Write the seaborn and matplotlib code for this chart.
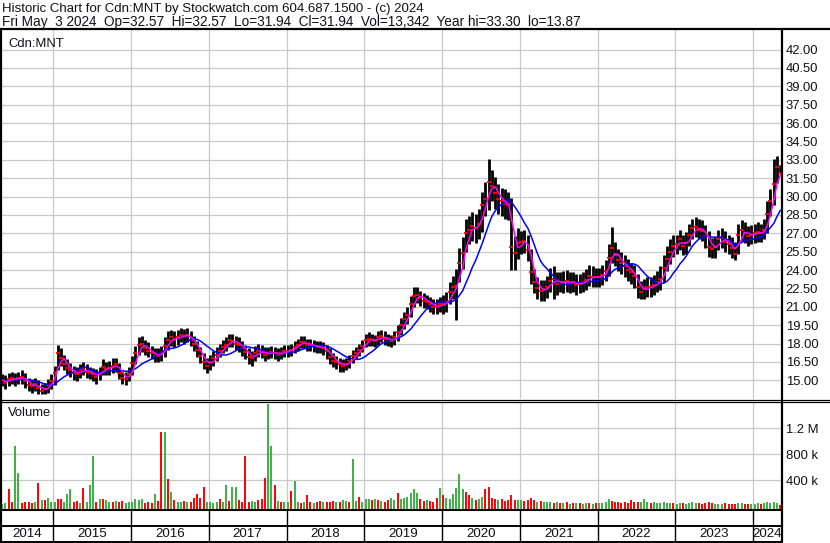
import matplotlib
matplotlib.use("Agg")
import matplotlib.pyplot as plt
from matplotlib.lines import Line2D
import numpy as np
import pandas as pd
import seaborn as sns

# semi-monthly bars, May 2014 .. May 3 2024
close = [
    15.0, 14.8, 15.1, 15.2, 15.0, 15.2, 15.3, 14.9, 14.6, 14.5, 14.7, 14.4, 14.1, 14.3, 14.6, 14.9,  # 2014
    15.6, 17.2, 16.8, 16.3, 16.0, 15.8, 15.6, 15.5, 15.8, 15.9, 15.7, 15.6, 15.5, 15.3, 15.6, 16.1, 15.9, 16.0, 16.2, 16.3, 15.6, 15.2, 15.1, 15.5,  # 2015
    16.4, 17.2, 17.9, 18.0, 17.6, 17.4, 17.2, 17.0, 17.0, 17.2, 17.8, 18.3, 18.5, 18.3, 18.5, 18.7, 18.6, 18.7, 18.3, 18.0, 17.5, 17.0, 16.5, 16.2,  # 2016
    16.5, 16.8, 17.1, 17.4, 17.7, 17.9, 18.3, 18.2, 18.0, 17.9, 17.6, 17.3, 16.9, 16.8, 17.2, 17.4, 17.3, 17.1, 17.2, 17.3, 17.2, 17.1, 17.2, 17.4,  # 2017
    17.4, 17.5, 17.7, 17.9, 18.1, 18.1, 17.9, 17.9, 17.8, 17.7, 17.7, 17.6, 17.4, 16.9, 16.6, 16.5, 16.3, 16.2, 16.3, 16.6, 17.0, 17.2, 17.5, 17.8,  # 2018
    18.3, 18.4, 18.3, 18.2, 18.5, 18.6, 18.4, 18.3, 18.2, 18.5, 18.9, 19.5, 20.0, 20.3, 21.2, 21.9, 22.0, 21.7, 21.5, 21.4, 21.2, 21.0, 21.0, 21.2,  # 2019
    21.2, 21.4, 22.2, 22.6, 22.7, 24.6, 25.4, 27.0, 27.3, 27.6, 27.4, 27.8, 29.3, 29.8, 31.2, 30.9, 30.3, 29.8, 29.6, 29.4, 29.3, 25.9, 25.4, 26.2,  # 2020
    26.3, 26.4, 25.6, 23.8, 23.0, 22.5, 22.3, 22.4, 22.6, 23.1, 23.3, 22.9, 23.0, 23.0, 23.1, 22.9, 23.0, 22.8, 22.9, 23.0, 23.2, 23.5, 23.4, 23.4,  # 2021
    23.4, 23.6, 23.9, 25.0, 25.8, 25.2, 24.8, 24.6, 24.3, 24.0, 23.8, 23.5, 22.6, 22.2, 22.5, 22.6, 22.6, 22.8, 23.0, 23.3, 24.2, 24.9, 25.5, 26.0,  # 2022
    26.1, 26.5, 26.0, 26.2, 26.9, 27.4, 27.5, 27.3, 27.2, 26.8, 25.9, 25.7, 25.9, 26.5, 26.6, 26.3, 26.1, 25.8, 25.3, 26.9, 27.3, 27.0, 26.8, 26.9,  # 2023
    27.0, 27.1, 27.0, 27.3, 28.6, 29.6, 31.0, 32.4, 31.94,  # 2024
]
high = [
    15.5, 15.4, 15.6, 15.7, 15.6, 15.7, 15.8, 15.6, 15.2, 15.1, 15.2, 15.0, 14.7, 14.8, 15.1, 15.5,
    16.2, 17.9, 17.6, 17.1, 16.7, 16.4, 16.2, 16.1, 16.3, 16.5, 16.3, 16.1, 16.0, 15.9, 16.1, 16.7, 16.5, 16.6, 16.8, 16.8, 16.4, 15.8, 15.7, 16.1,
    17.0, 17.8, 18.5, 18.6, 18.3, 18.1, 17.8, 17.6, 17.6, 17.8, 18.5, 19.0, 19.1, 19.0, 19.1, 19.3, 19.2, 19.3, 19.0, 18.6, 18.2, 17.7, 17.2, 16.8,
    17.1, 17.4, 17.7, 18.0, 18.3, 18.5, 18.8, 18.8, 18.6, 18.5, 18.2, 17.9, 17.6, 17.4, 17.8, 18.0, 17.9, 17.7, 17.7, 17.8, 17.7, 17.6, 17.7, 17.9,
    17.9, 18.0, 18.2, 18.4, 18.6, 18.6, 18.4, 18.4, 18.3, 18.2, 18.2, 18.1, 17.9, 17.6, 17.2, 17.0, 16.8, 16.7, 16.8, 17.1, 17.5, 17.7, 18.0, 18.3,
    18.8, 18.9, 18.8, 18.7, 19.0, 19.1, 19.0, 18.8, 18.7, 19.0, 19.5, 20.1, 20.6, 21.0, 21.9, 22.6, 22.6, 22.3, 22.1, 22.0, 21.8, 21.6, 21.6, 21.8,
    22.0, 22.2, 23.0, 23.5, 24.1, 25.8, 26.7, 28.2, 28.4, 28.7, 28.6, 29.0, 30.4, 31.2, 33.1, 32.2, 31.6, 31.0, 30.7, 30.6, 30.4, 29.9, 26.8, 27.4,
    27.2, 27.3, 26.9, 25.7, 24.1, 23.4, 23.2, 23.2, 23.5, 24.2, 24.3, 23.8, 23.8, 23.9, 24.0, 23.8, 23.8, 23.7, 23.7, 23.8, 24.1, 24.4, 24.3, 24.2,
    24.2, 24.4, 24.8, 26.1, 27.5, 26.3, 25.7, 25.5, 25.2, 24.9, 24.6, 24.4, 23.7, 23.1, 23.3, 23.4, 23.4, 23.6, 23.9, 24.3, 25.2, 26.0, 26.5, 26.9,
    26.9, 27.3, 26.9, 27.1, 27.8, 28.2, 28.3, 28.2, 28.1, 27.7, 27.2, 26.6, 26.7, 27.3, 27.4, 27.2, 26.9, 26.7, 26.3, 27.8, 28.1, 27.9, 27.6, 27.7,
    27.8, 27.9, 27.8, 28.2, 29.6, 30.6, 33.1, 33.3, 32.6,
]
low = [
    14.5, 14.3, 14.5, 14.7, 14.5, 14.7, 14.7, 14.4, 14.1, 14.0, 14.1, 13.9, 13.87, 13.9, 14.0, 14.3,
    14.6, 15.8, 16.2, 15.8, 15.5, 15.3, 15.0, 14.9, 15.2, 15.4, 15.2, 15.1, 14.9, 14.7, 15.0, 15.4, 15.4, 15.4, 15.6, 15.7, 15.1, 14.7, 14.6, 14.9,
    15.4, 16.3, 17.1, 17.3, 17.1, 16.9, 16.7, 16.5, 16.5, 16.6, 16.9, 17.5, 17.8, 17.7, 17.9, 18.1, 18.0, 18.1, 17.8, 17.4, 16.9, 16.4, 15.9, 15.6,
    15.8, 16.2, 16.6, 16.9, 17.2, 17.4, 17.7, 17.7, 17.5, 17.3, 17.0, 16.7, 16.3, 16.2, 16.6, 16.9, 16.8, 16.6, 16.7, 16.8, 16.7, 16.6, 16.7, 16.9,
    16.9, 17.0, 17.2, 17.4, 17.6, 17.6, 17.4, 17.4, 17.3, 17.2, 17.2, 17.1, 16.7, 16.3, 16.1, 15.9, 15.7, 15.7, 15.8, 16.0, 16.4, 16.7, 17.0, 17.3,
    17.7, 17.8, 17.8, 17.7, 17.9, 18.1, 17.9, 17.8, 17.7, 17.9, 18.2, 18.7, 19.2, 19.6, 20.2, 21.0, 21.3, 21.1, 20.9, 20.8, 20.6, 20.4, 20.4, 20.6,
    20.4, 20.6, 21.2, 21.6, 19.9, 23.0, 24.1, 25.5, 26.1, 26.4, 26.2, 26.5, 27.1, 28.4, 28.9, 29.6, 29.0, 28.6, 28.4, 28.2, 28.1, 24.0, 24.0, 24.9,
    25.3, 25.4, 24.7, 22.9, 22.1, 21.6, 21.5, 21.5, 21.7, 22.2, 21.6, 22.0, 22.2, 22.1, 22.2, 22.1, 22.2, 22.0, 22.1, 22.2, 22.4, 22.7, 22.6, 22.6,
    22.6, 22.8, 23.1, 23.5, 24.6, 24.3, 23.9, 23.7, 23.4, 23.1, 22.9, 22.5, 21.7, 21.6, 21.6, 21.8, 21.8, 22.0, 22.2, 22.4, 23.0, 23.9, 24.5, 25.1,
    25.3, 25.6, 25.2, 25.3, 26.0, 26.5, 26.7, 26.5, 26.4, 25.8, 25.1, 25.0, 25.0, 25.6, 25.8, 25.5, 25.3, 25.0, 24.8, 25.3, 26.4, 26.2, 26.0, 26.1,
    26.2, 26.3, 26.3, 26.5, 27.0, 28.4, 29.3, 31.1, 31.9,
]
# volume in thousands, biggest day of each half-month
volume_k = [
    40, 50, 265, 60, 920, 510, 50, 70, 60, 45, 70, 360, 100, 90, 135, 60,
    60, 113, 110, 70, 190, 265, 60, 80, 50, 287, 70, 328, 774, 60, 115, 110, 100, 60, 70, 75, 60, 80, 50, 60,
    60, 110, 100, 110, 50, 60, 50, 190, 80, 1150, 1140, 420, 225, 90, 70, 60, 80, 60, 70, 135, 190, 120, 290, 60,
    60, 50, 70, 115, 60, 330, 80, 290, 290, 90, 70, 774, 60, 80, 70, 100, 110, 435, 1570, 928, 328, 80, 60, 70,
    60, 240, 390, 60, 50, 70, 170, 60, 50, 60, 80, 60, 70, 60, 80, 60, 70, 90, 80, 60, 730, 80, 150, 60,
    115, 110, 100, 115, 90, 80, 70, 100, 120, 90, 200, 110, 120, 150, 200, 270, 200, 110, 80, 90, 80, 70, 120, 287,
    180, 120, 110, 190, 287, 495, 260, 225, 170, 120, 100, 110, 140, 270, 290, 120, 110, 90, 110, 80, 90, 180, 100, 90,
    90, 80, 100, 125, 90, 70, 80, 60, 70, 60, 50, 60, 50, 50, 60, 40, 50, 45, 50, 40, 45, 50, 40, 50,
    45, 50, 60, 115, 80, 70, 60, 50, 60, 50, 90, 60, 70, 60, 115, 60, 50, 60, 45, 50, 60, 55, 50, 45,
    40, 45, 50, 40, 45, 60, 50, 45, 40, 45, 70, 50, 40, 35, 40, 45, 40, 35, 40, 50, 45, 40, 35, 40,
    40, 45, 40, 50, 60, 55, 60, 55, 20,
]
# u = up period (green volume), d = down period (red volume)
vol_dir = "".join("""
    uudd uudd ddud uduu
    uddu uudd uduu udud uudu dduu
    uuuu dddu ddud uduu dudd dddu
    uuud uudu uddd duud dduu dudu
    uduu dudd uddu dddu duud uudu
    uudu dudd uudu uuuu uddu dddu
    duuu uuud dudu uddd dudd dddu
    uddd dudu uudu dudu dudu udud
    uuuu dddd dddd duuu duuu uuud
    uudu uuud dddd uuud dddu uddu
    uudu uuuu d
""".split())

years = list(range(2014, 2025))
price_ticks = np.arange(15.0, 42.01, 1.5)
vol_ticks = [400_000, 800_000, 1_200_000]
vol_labels = ["400 k", "800 k", "1.2 M"]
header_1 = "Historic Chart for Cdn:MNT by Stockwatch.com 604.687.1500 - (c) 2024"
header_2 = ("Fri May  3 2024  Op=32.57  Hi=32.57  Lo=31.94  Cl=31.94  "
            "Vol=13,342  Year hi=33.30  lo=13.87")

sns.set_style("white")
plt.rcParams["font.family"] = ["Liberation Sans", "DejaVu Sans"]

df = pd.DataFrame({"close": close, "high": high, "low": low,
                   "volume": np.array(volume_k) * 1000, "dir": list(vol_dir)})
df["date"] = pd.date_range("2014-05-01", periods=len(df), freq="SMS") + pd.Timedelta(days=7)
df["ma_fast"] = df["close"].rolling(3, min_periods=1).mean()
df["ma_slow"] = df["close"].rolling(10, min_periods=1).mean()

W, H = 830, 543
fig = plt.figure(figsize=(W / 100, H / 100), dpi=100)


def box(x0, y0, x1, y1):
    # pixel box (top-left origin) -> figure fraction
    return [x0 / W, 1 - y1 / H, (x1 - x0) / W, (y1 - y0) / H]


ax = fig.add_axes(box(2, 30, 781, 399))
axv = fig.add_axes(box(2, 403, 781, 510))
axy = fig.add_axes(box(2, 510, 781, 542))

xlim = (pd.Timestamp("2014-05-06"), pd.Timestamp("2024-05-11"))
year_starts = [pd.Timestamp(f"{y}-01-01") for y in years[1:]]
grid_kw = dict(color="#c8c8c8", lw=0.9)
txt = "#101018"
fs = 9.4

# price panel
ax.vlines(df["date"], df["low"], df["high"], color="black", lw=2.0)
ax.plot(df["date"], df["close"], ls="none", marker="_", color="red", ms=2.6, mew=1.3)
sns.lineplot(data=df, x="date", y="ma_slow", ax=ax, color="#0000ff", lw=1.1)
sns.lineplot(data=df, x="date", y="ma_fast", ax=ax, color="#ff00ff", lw=1.1)
ax.set_xlim(*xlim)
ax.set_ylim(13.47, 43.6)
ax.set_yticks(price_ticks)
ax.set_yticklabels([f"{v:.2f}" for v in price_ticks])
ax.set_xticks(year_starts)
ax.set_xticklabels([])

# volume panel
vfloor = -57000
vcol = np.where(df["dir"] == "u", "#3cb043", "#ff0000")
axv.vlines(df["date"], vfloor, df["volume"], colors=vcol, lw=1.4)
axv.set_xlim(*xlim)
axv.set_ylim(vfloor, 1.589e6)
axv.set_yticks(vol_ticks)
axv.set_yticklabels(vol_labels)
axv.set_xticks(year_starts)
axv.set_xticklabels([])

for a in (ax, axv):
    a.set_xlabel("")
    a.set_ylabel("")
    a.grid(True, **grid_kw)
    a.set_axisbelow(True)
    a.yaxis.tick_right()
    a.tick_params(axis="y", length=0, pad=3.5, labelsize=fs, labelcolor=txt)
    a.tick_params(axis="x", length=0)
    for s in a.spines.values():
        s.set_visible(False)

# year band
axy.set_xlim(*xlim)
axy.set_ylim(0, 1)
axy.axis("off")
axy.vlines(year_starts, 0, 1, color="black", lw=1.0)
for y in years:
    a0 = max(pd.Timestamp(f"{y}-01-01"), xlim[0])
    a1 = min(pd.Timestamp(f"{y + 1}-01-01"), xlim[1])
    axy.text(a0 + (a1 - a0) / 2, 0.24, str(y), ha="center", va="center",
             fontsize=9.6, color=txt)


def hline(y, x0, x1, lw):
    fig.add_artist(Line2D([x0 / W, x1 / W], [1 - y / H] * 2, color="black", lw=lw))


def vline(x, y0, y1, lw):
    fig.add_artist(Line2D([x / W] * 2, [1 - y0 / H, 1 - y1 / H], color="black", lw=lw))


hline(29, 0, W, 1.6)
vline(1, 29, 542, 1.6)
vline(781.5, 29, 542, 1.6)
hline(399.5, 0, W, 0.9)
hline(402, 0, W, 0.9)
hline(510, 0, 781.5, 1.4)
hline(526, 0, 781.5, 1.4)
hline(541.5, 0, 781.5, 1.4)

fig.text(2 / W, 1 - 12.3 / H, header_1, va="baseline", fontsize=9.5, color=txt)
fig.text(2 / W, 1 - 26 / H, header_2, va="baseline", fontsize=9.8, color=txt)
fig.text(8 / W, 1 - 44 / H, "Cdn:MNT", va="center", fontsize=fs, color=txt)
fig.text(8 / W, 1 - 413 / H, "Volume", va="center", fontsize=fs, color=txt)

fig.savefig("out.png", dpi=100)
